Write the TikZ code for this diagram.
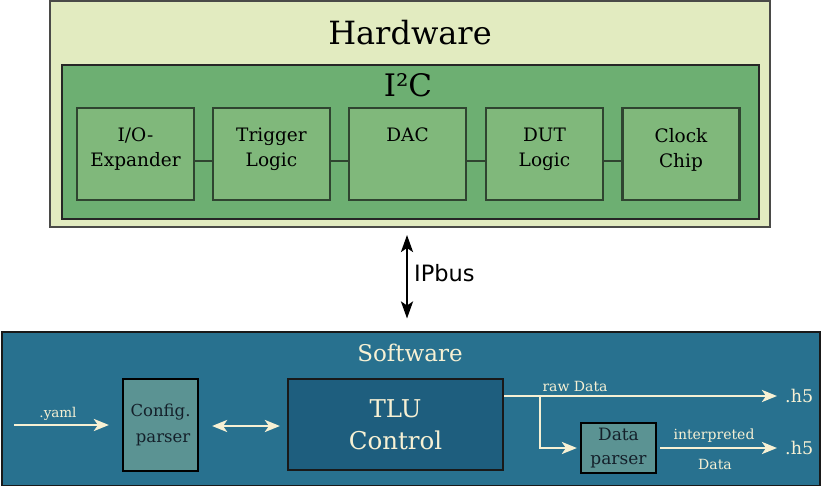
\documentclass[tikz,border=0pt]{standalone}
\usepackage{fontspec}
\setmainfont{DejaVu Serif}
\newfontfamily\sansf{DejaVu Sans}
\usetikzlibrary{arrows.meta}
\definecolor{hwbg}{HTML}{E2EBC0}
\definecolor{hwline}{HTML}{4A4A48}
\definecolor{ictwo}{HTML}{6DAF72}
\definecolor{inner}{HTML}{80B87B}
\definecolor{innerline}{HTML}{2F4430}
\definecolor{swbg}{HTML}{28718F}
\definecolor{tlubg}{HTML}{1E5E7E}
\definecolor{parsebg}{HTML}{5B9393}
\definecolor{cream}{HTML}{F7F1D4}
\definecolor{darktxt}{HTML}{14202A}
\tikzset{
  hwblock/.style={draw=innerline, line width=2.2pt, fill=inner, minimum width=117pt, minimum height=92pt, inner sep=0pt},
  hwtext/.style={font=\fontsize{18.5}{25}\selectfont, align=center, anchor=north, inner sep=0pt},
  link/.style={draw=innerline, line width=1.2pt},
  tip/.style={Stealth[length=15pt,width=12pt,inset=4pt]},
  flow/.style={draw=cream, line width=2.8pt, -{Stealth[length=15pt,width=12pt,inset=4pt]}},
  parser/.style={draw=black, line width=2.2pt, fill=parsebg, inner sep=0pt, text=darktxt, align=center},
  smalllbl/.style={text=cream, font=\fontsize{14}{16}\selectfont, inner sep=0pt},
}
\begin{document}
\begin{tikzpicture}[x=1pt,y=-1pt]
\useasboundingbox (0,0) rectangle (821,486);
% Hardware
\node[draw=hwline, line width=2pt, fill=hwbg, minimum width=720pt, minimum height=226pt, inner sep=0pt] (hw) at (410,114) {};
\node[font=\fontsize{32}{38}\selectfont, inner sep=0pt] (hwt) at (410,33) {Hardware};
\node[draw=black!85, line width=2.5pt, fill=ictwo, minimum width=697pt, minimum height=154pt, inner sep=0pt] (i2c) at (410.5,142) {};
\node[font=\fontsize{31}{36}\selectfont, inner sep=0pt] (i2ct) at (408,85) {I²C};
\node[hwblock] (io) at (135.5,154) {};
\node[hwblock] (trig) at (271.5,154) {};
\node[hwblock] (dac) at (407.5,154) {};
\node[hwblock] (dut) at (544.5,154) {};
\node[hwblock] (clk) at (681,154) {};
\node[hwtext] (iot) at ([yshift=-21pt]io.north) {I/O-\\Expander};
\node[hwtext] (trigt) at ([yshift=-21pt]trig.north) {Trigger\\Logic};
\node[hwtext] (dact) at ([yshift=-21pt]dac.north) {DAC};
\node[hwtext] (dutt) at ([yshift=-21pt]dut.north) {DUT\\Logic};
\node[hwtext] (clkt) at ([yshift=-21pt]clk.north) {Clock\\Chip};
\draw[link] ([yshift=-7pt]io.east) -- ([yshift=-7pt]trig.west);
\draw[link] ([yshift=-7pt]trig.east) -- ([yshift=-7pt]dac.west);
\draw[link] ([yshift=-7pt]dac.east) -- ([yshift=-7pt]dut.west);
\draw[link] ([yshift=-7pt]dut.east) -- ([yshift=-7pt]clk.west);
% Software
\node[draw=black!90, line width=2pt, fill=swbg, minimum width=818pt, minimum height=154pt, inner sep=0pt] (sw) at (410.5,408.5) {};
\node[font=\fontsize{23}{26}\selectfont, text=cream, inner sep=0pt] (swt) at (410,353) {Software};
% IPbus
\draw[line width=2.6pt, {Stealth[length=17pt,width=12pt,inset=4pt]}-{Stealth[length=17pt,width=12pt,inset=4pt]}, shorten <=7pt, shorten >=12pt] ([xshift=-3pt]hw.south) -- ([xshift=-3pt]hw.south |- sw.north);
\node[font=\sansf\fontsize{22.5}{24}\selectfont, anchor=west, inner sep=0pt] (ipb) at (414,273) {IPbus};
% software blocks
\node[parser, minimum width=75pt, minimum height=92pt, font=\fontsize{16.5}{26}\selectfont] (cfg) at (160.5,425) {Config.\\\ parser};
\node[draw=black!90, line width=2.2pt, fill=tlubg, minimum width=215pt, minimum height=91pt, inner sep=0pt, text=cream, font=\fontsize{24.5}{32}\selectfont, align=center] (tlu) at (395.5,424.5) {TLU\\Control};
\node[parser, minimum width=75pt, minimum height=50pt, font=\fontsize{17}{24}\selectfont] (dp) at (618.5,448) {Data\\parser};
\coordinate (yaml) at (14,425);
\node[text=cream, font=\fontsize{17.5}{20}\selectfont, anchor=west, inner sep=0pt] (h5a) at (785,396) {.h5};
\node[text=cream, font=\fontsize{17.5}{20}\selectfont, anchor=west, inner sep=0pt] (h5b) at (785,448) {.h5};
\coordinate (split) at (540,396);
\draw[flow, shorten >=13pt] (yaml) -- (cfg.west);
\node[smalllbl, font=\fontsize{13.5}{15}\selectfont] (yamlt) at (58,414) {.yaml};
\draw[flow, {Stealth[length=15pt,width=12pt,inset=4pt]}-{Stealth[length=15pt,width=12pt,inset=4pt]}, shorten <=13pt, shorten >=7pt] ([yshift=-1pt]cfg.east) -- ([yshift=-1pt]cfg.east -| tlu.west);
\draw[flow, shorten >=8pt] (tlu.east |- h5a.west) -- (h5a.west);
\node[smalllbl] (rawt) at (575,386) {raw Data};
\draw[flow, shorten >=3pt] (split) |- (dp.west);
\draw[flow, shorten <=3pt, shorten >=8pt] (dp.east) -- (h5b.west);
\node[smalllbl] (intt) at (714,436) {interpreted};
\node[smalllbl] (datat) at (715,464) {Data};
\end{tikzpicture}
\end{document}
